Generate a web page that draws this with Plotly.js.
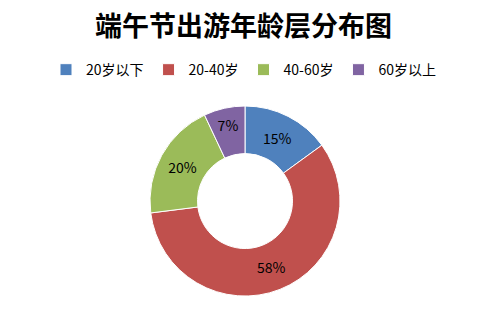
<!DOCTYPE html>
<html>
<head>
<meta charset="utf-8">
<script src="https://cdn.plot.ly/plotly-3.0.1.min.js"></script>
<style>html,body{margin:0;padding:0;background:#fff}#chart{width:500px;height:310px}</style>
</head>
<body>
<div id="chart"></div>
<script>
var categories = ["20岁以下", "20-40岁", "40-60岁", "60岁以上"];
var values = [15, 58, 20, 7];
var colors = ["#4F81BD", "#C0504D", "#9BBB59", "#8064A2"];

var font = '"Noto Sans CJK SC", "Noto Sans", sans-serif';

var trace = {
  type: 'pie',
  labels: categories,
  values: values,
  hole: 0.5,
  sort: false,
  direction: 'clockwise',
  rotation: 0,
  marker: {colors: colors, line: {color: '#ffffff', width: 1}},
  textinfo: 'percent',
  texttemplate: '%{percent:.0%}',
  textposition: 'inside',
  insidetextorientation: 'horizontal',
  textfont: {family: font, size: 14, color: '#000000'},
  hoverinfo: 'none',
  domain: {x: [0.298, 0.682], y: [0.045, 0.658]}
};

var layout = {
  width: 500,
  height: 310,
  margin: {l: 0, r: 0, t: 0, b: 0},
  paper_bgcolor: '#ffffff',
  font: {family: font, color: '#000000'},
  title: {
    text: '<b>端午节出游年龄层分布图</b>',
    font: {family: font, size: 27, color: '#000000'},
    x: 0.487, xanchor: 'center',
    y: 0.915, yanchor: 'middle'
  },
  showlegend: true,
  legend: {
    orientation: 'h',
    x: 0.487, xanchor: 'center',
    y: 0.774, yanchor: 'middle',
    font: {family: font, size: 14, color: '#000000'},
    traceorder: 'normal'
  }
};

Plotly.newPlot('chart', [trace], layout, {staticPlot: true, displayModeBar: false});
</script>
</body>
</html>
